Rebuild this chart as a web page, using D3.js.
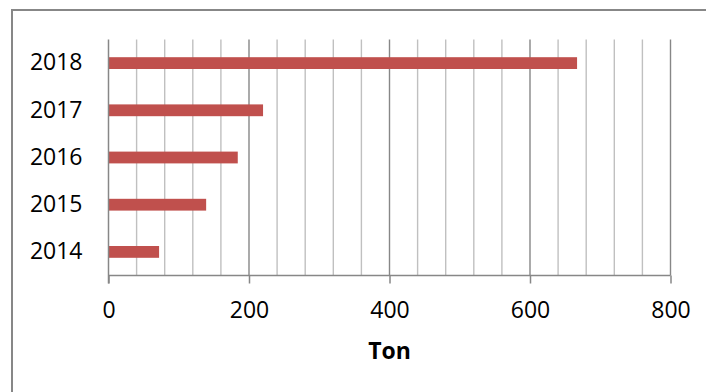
<!DOCTYPE html>
<html>
<head>
<meta charset="utf-8">
<script src="https://cdn.jsdelivr.net/npm/d3@7"></script>
<style>
  html, body { margin: 0; padding: 0; background: #fff; }
  svg { display: block; }
  text { font-family: "Open Sans", "Noto Sans", sans-serif; fill: #000; }
</style>
</head>
<body>
<script>
// Annual tonnage, one bar per year
const years = ["2014", "2015", "2016", "2017", "2018"];
const tons = [72, 139, 184, 220, 667];
const xTickValues = [0, 200, 400, 600, 800];
const minorStep = 40;
const xTitle = "Ton";

const W = 706, H = 392;
const plot = { left: 108.5, right: 670.5, top: 39.5, bottom: 275.5 };

const svg = d3.select("body").append("svg")
  .attr("width", W).attr("height", H);

// chart frame (runs off the right and bottom edges)
svg.append("rect")
  .attr("x", 12).attr("y", 10)
  .attr("width", 720).attr("height", 420)
  .attr("fill", "none").attr("stroke", "#878787").attr("stroke-width", 2);

const x = d3.scaleLinear().domain([0, 800]).range([plot.left, plot.right]);
const y = d3.scaleBand()
  .domain(years.slice().reverse())
  .range([plot.top, plot.bottom])
  .paddingInner(0.75).paddingOuter(0.375);

// vertical gridlines: minor every 40, major every 200
const gridVals = d3.range(minorStep, 800 + 1, minorStep);
svg.append("g").selectAll("line")
  .data(gridVals)
  .join("line")
  .attr("x1", d => x(d)).attr("x2", d => x(d))
  .attr("y1", plot.top).attr("y2", plot.bottom)
  .attr("stroke", d => (d % 200 === 0 ? "#878787" : "#c0c0c0"))
  .attr("stroke-width", 1.4);

// bars
svg.append("g").selectAll("rect")
  .data(years.map((yr, i) => ({ yr, v: tons[i] })))
  .join("rect")
  .attr("x", x(0))
  .attr("y", d => y(d.yr))
  .attr("width", d => x(d.v) - x(0))
  .attr("height", y.bandwidth())
  .attr("fill", "#c0504d");

// x axis with major ticks pointing down
const xAxis = svg.append("g")
  .attr("transform", `translate(0,${plot.bottom})`)
  .call(d3.axisBottom(x).tickValues(xTickValues).tickSize(8).tickPadding(18));
xAxis.select(".domain").attr("stroke", "#878787").attr("stroke-width", 1.5)
  .attr("d", `M${plot.left},0H${plot.right}`);
xAxis.selectAll(".tick line").attr("stroke", "#878787").attr("stroke-width", 1.5);
xAxis.selectAll(".tick text").attr("font-size", 23)
  .style("font-family", '"Open Sans", "Noto Sans", sans-serif');

// y axis: category labels, vertical line only
const yAxis = svg.append("g")
  .attr("transform", `translate(${plot.left},0)`)
  .call(d3.axisLeft(y).tickSize(0).tickPadding(26));
yAxis.select(".domain").remove();
yAxis.selectAll(".tick text").attr("font-size", 23)
  .style("font-family", '"Open Sans", "Noto Sans", sans-serif');
svg.append("line")
  .attr("x1", plot.left).attr("x2", plot.left)
  .attr("y1", plot.top).attr("y2", plot.bottom + 8)
  .attr("stroke", "#878787").attr("stroke-width", 1.5);

// axis title
svg.append("text")
  .attr("x", (plot.left + plot.right) / 2)
  .attr("y", 359)
  .attr("text-anchor", "middle")
  .attr("font-size", 23)
  .attr("font-weight", "bold")
  .text(xTitle);
</script>
</body>
</html>
